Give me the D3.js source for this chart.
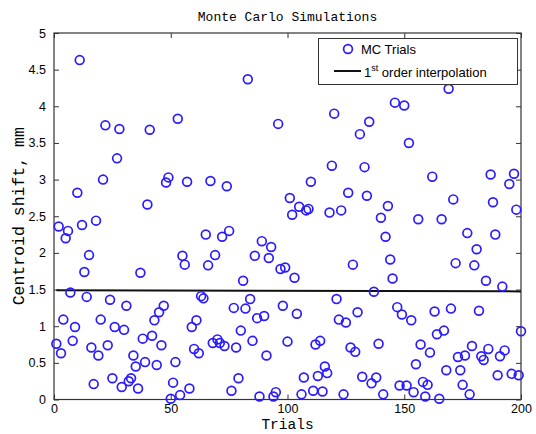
<!DOCTYPE html>
<html><head><meta charset="utf-8">
<script src="https://cdn.jsdelivr.net/npm/d3@7"></script>
<style>body{margin:0;background:#fff}svg{display:block}</style>
</head><body>
<svg id="c" width="536" height="434"></svg>
<script>
const trials = [1,2,3,4,5,6,7,8,9,10,11,12,13,14,15,16,17,18,19,20,21,22,23,24,25,26,27,28,29,30,31,32,33,34,35,36,37,38,39,40,41,42,43,44,45,46,47,48,49,50,51,52,53,54,55,56,57,58,59,60,61,62,63,64,65,66,67,68,69,70,71,72,73,74,75,76,77,78,79,80,81,82,83,84,85,86,87,88,89,90,91,92,93,94,95,96,97,98,99,100,101,102,103,104,105,106,107,108,109,110,111,112,113,114,115,116,117,118,119,120,121,122,123,124,125,126,127,128,129,130,131,132,133,134,135,136,137,138,139,140,141,142,143,144,145,146,147,148,149,150,151,152,153,154,155,156,157,158,159,160,161,162,163,164,165,166,167,168,169,170,171,172,173,174,175,176,177,178,179,180,181,182,183,184,185,186,187,188,189,190,191,192,193,195,196,197,198,199,200];
const shift = [0.76,2.36,0.63,1.09,2.20,2.30,1.46,0.80,0.99,2.82,4.63,2.38,1.74,1.40,1.97,0.71,0.21,2.44,0.60,1.09,3.00,3.74,0.74,1.36,0.29,0.99,3.29,3.69,0.17,0.95,1.28,0.25,0.29,0.60,0.45,0.15,1.73,0.83,0.51,2.66,3.68,0.87,1.08,0.47,1.19,0.74,1.28,2.96,3.03,0.01,0.23,0.51,3.83,0.06,1.96,1.84,2.97,0.15,0.99,0.69,1.08,0.63,1.41,1.38,2.25,1.83,2.98,0.77,1.97,0.82,0.77,2.22,0.73,2.91,2.30,0.12,1.25,0.71,0.29,0.94,1.62,1.24,4.37,1.37,0.80,1.96,1.11,0.04,2.16,1.14,0.60,1.93,2.08,0.04,0.10,3.76,1.78,1.28,1.80,0.79,2.75,2.52,1.66,1.17,2.63,0.07,0.30,2.58,2.60,2.97,0.12,0.75,0.32,0.80,0.11,0.45,0.36,2.55,3.19,3.90,1.37,1.09,2.58,0.07,1.05,2.82,0.71,1.84,0.65,1.19,3.62,0.31,3.17,2.78,3.79,0.22,1.47,0.30,0.76,2.48,0.07,2.22,2.64,1.91,1.65,4.05,1.26,0.19,1.16,4.01,0.19,3.50,1.08,0.10,0.48,2.46,0.75,0.24,0.04,0.20,0.64,3.04,1.20,0.89,0.01,2.46,0.94,0.40,4.24,1.24,2.73,1.86,0.58,0.40,0.20,0.60,2.27,0.07,0.73,1.83,2.05,1.21,0.59,0.54,1.62,0.69,3.07,2.69,2.25,0.33,0.59,1.54,0.67,2.94,0.35,3.08,2.59,0.33,0.93];
const fitTrials = [1, 200];
const fitShift = [1.49, 1.475];
const xTicks = [0, 50, 100, 150, 200];
const yTicks = [0, 0.5, 1, 1.5, 2, 2.5, 3, 3.5, 4, 4.5, 5];
const titleText = "Monte Carlo Simulations";
const xLabel = "Trials";
const yLabel = "Centroid shift, mm";
const legendLabels = ["MC Trials", "order interpolation"];

const svg = d3.select("#c");
const L = 54, R = 521, T = 33, B = 399.5;
const x = d3.scaleLinear().domain([0, 200]).range([L, R]);
const y = d3.scaleLinear().domain([0, 5]).range([B, T]);
const sans = "'Liberation Sans', Arial, Helvetica, sans-serif";
const mono = "'Liberation Mono', 'Courier New', monospace";
const blue = "#2a1cff";

svg.append("rect").attr("x", L).attr("y", T).attr("width", R - L).attr("height", B - T)
  .attr("fill", "#fff");

function styleAxis(g, showText) {
  g.select(".domain").remove();
  g.selectAll(".tick line").attr("stroke", "#333").attr("stroke-width", 1);
  g.selectAll(".tick text").attr("font-family", sans).attr("font-size", 12.5).attr("fill", "#000");
  if (!showText) g.selectAll(".tick text").remove();
}
const fmt = d3.format("");
svg.append("g").attr("transform", `translate(0,${B})`)
  .call(d3.axisBottom(x).tickValues(xTicks).tickSize(-5).tickPadding(5).tickFormat(fmt))
  .call(g => styleAxis(g, true));
svg.append("g").attr("transform", `translate(0,${T})`)
  .call(d3.axisTop(x).tickValues(xTicks).tickSize(-5))
  .call(g => styleAxis(g, false));
svg.append("g").attr("transform", `translate(${L},0)`)
  .call(d3.axisLeft(y).tickValues(yTicks).tickSize(-5).tickPadding(8).tickFormat(fmt))
  .call(g => styleAxis(g, true));
svg.append("g").attr("transform", `translate(${R},0)`)
  .call(d3.axisRight(y).tickValues(yTicks).tickSize(-5))
  .call(g => styleAxis(g, false));

svg.append("rect").attr("x", L).attr("y", T).attr("width", R - L).attr("height", B - T)
  .attr("fill", "none").attr("stroke", "#333").attr("stroke-width", 1.2);

// fit line
const line = d3.line().x(d => x(d[0])).y(d => y(d[1]));
svg.append("path").datum(fitTrials.map((t, i) => [t, fitShift[i]]))
  .attr("d", line).attr("stroke", "#111").attr("stroke-width", 2).attr("fill", "none");

// points
svg.append("g").selectAll("circle").data(trials.map((t, i) => [t, shift[i]]))
  .join("circle")
  .attr("cx", d => x(d[0])).attr("cy", d => y(d[1])).attr("r", 4.4)
  .attr("fill", "none").attr("stroke", blue).attr("stroke-width", 1.7);

// title & labels
svg.append("text").attr("x", (L + R) / 2).attr("y", 21).attr("text-anchor", "middle")
  .attr("font-family", mono).attr("font-size", 13).text(titleText);
svg.append("text").attr("x", (L + R) / 2).attr("y", 429).attr("text-anchor", "middle")
  .attr("font-family", mono).attr("font-size", 14.5).text(xLabel);
svg.append("text").attr("transform", `translate(24,${(T + B) / 2}) rotate(-90)`)
  .attr("text-anchor", "middle")
  .attr("font-family", mono).attr("font-size", 16.5).text(yLabel);

// legend
const lg = svg.append("g");
lg.append("rect").attr("x", 318.5).attr("y", 38.5).attr("width", 199).attr("height", 46)
  .attr("fill", "#fff").attr("stroke", "#333").attr("stroke-width", 1);
lg.append("circle").attr("cx", 348).attr("cy", 49).attr("r", 4.4)
  .attr("fill", "none").attr("stroke", blue).attr("stroke-width", 1.7);
lg.append("text").attr("x", 361).attr("y", 53.5).attr("font-family", sans).attr("font-size", 13)
  .text(legendLabels[0]);
lg.append("line").attr("x1", 334).attr("x2", 361).attr("y1", 71).attr("y2", 71)
  .attr("stroke", "#111").attr("stroke-width", 2);
const t2 = lg.append("text").attr("x", 364).attr("y", 77).attr("font-family", sans).attr("font-size", 13);
t2.append("tspan").text("1");
t2.append("tspan").attr("dy", -6).attr("font-size", 9).text("st");
t2.append("tspan").attr("dy", 6).text(" " + legendLabels[1]);
</script>
</body></html>
